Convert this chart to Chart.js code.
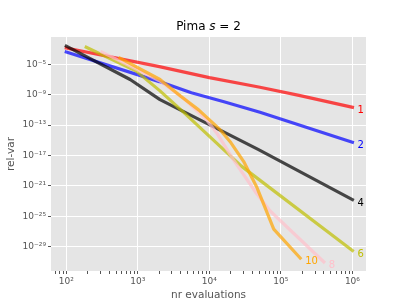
<!DOCTYPE html>
<html>
<head>
<meta charset="utf-8">
<script src="https://cdn.jsdelivr.net/npm/chart.js@4"></script>
<style>
  html, body { margin: 0; padding: 0; background: #ffffff; }
  #wrap { width: 407px; height: 305px; position: relative; }
</style>
</head>
<body>
<div id="wrap"><canvas id="c" width="407" height="305"></canvas></div>
<script>
// ---- data ----
const seriesNames = ['1', '2', '4', '6', '8', '10'];

const evals1 = [100, 2000, 1e4, 5.1e4, 1.86e5, 1e6];
const relvar1 = [1.41e-3, 5.0e-6, 1.78e-7, 9.5e-9, 7.4e-10, 2.24e-11];

const evals2 = [100, 2000, 5600, 1.6e4, 5.1e4, 1e6];
const relvar2 = [4.2e-4, 5.25e-8, 1.78e-9, 1.2e-10, 4.9e-12, 5.5e-16];

const evals4 = [100, 780, 2040, 4.8e4, 1e6];
const relvar4 = [2.5e-3, 1e-7, 2.24e-10, 6.3e-17, 1.58e-23];

const evals6 = [190, 950, 2040, 4570, 2.8e4, 1e6];
const relvar6 = [1.74e-3, 1.26e-6, 3.16e-9, 3.16e-12, 3.98e-19, 3.16e-30];

const evals8 = [316, 2042, 4365, 9120, 12589, 21878, 45709, 70795, 398107];
const relvar8 = [4e-4, 6.3e-8, 3.2e-10, 5e-13, 1e-14, 2.5e-18, 1e-22, 5e-25, 1e-31];

const evals10 = [562, 2042, 3981, 7079, 14125, 19953, 30200, 45709, 79433, 186209];
const relvar10 = [6.3e-5, 1e-7, 6.3e-10, 1e-11, 2.5e-14, 5e-16, 1.6e-18, 7.9e-22, 2e-27, 3.2e-31];

const xMajorTicks = [1e2, 1e3, 1e4, 1e5, 1e6];
const yMajorTicks = [1e-5, 1e-9, 1e-13, 1e-17, 1e-21, 1e-25, 1e-29];

// ---- styling ----
const lineColors = ['rgba(255,0,0,0.7)', 'rgba(0,0,255,0.7)', 'rgba(0,0,0,0.7)',
                    'rgba(191,191,0,0.7)', 'rgba(255,192,203,0.7)', 'rgba(255,165,0,0.7)'];
const textColors = ['#ff0000', '#0000ff', '#000000', '#bfbf00', '#ffc0cb', '#ffa500'];

const allEvals = [evals1, evals2, evals4, evals6, evals8, evals10];
const allRelvar = [relvar1, relvar2, relvar4, relvar6, relvar8, relvar10];

const sup = {'0':'⁰','1':'¹','2':'²','3':'³','4':'⁴','5':'⁵','6':'⁶','7':'⁷','8':'⁸','9':'⁹','-':'⁻'};
function powLabel(v) {
  const e = Math.round(Math.log10(v));
  return '10' + String(e).split('').map(ch => sup[ch]).join('');
}

const datasets = seriesNames.map((name, i) => ({
  label: name,
  data: allEvals[i].map((x, j) => ({x: x, y: allRelvar[i][j]})),
  borderColor: lineColors[i],
  backgroundColor: lineColors[i],
  borderWidth: 3.2,
  pointRadius: 0,
  tension: 0,
  borderCapStyle: 'square',
  borderJoinStyle: 'round',
  fill: false,
  order: seriesNames.length - i
}));

// x minor ticks (2..9 x 10^k)
const xMin = Math.pow(10, 1.786), xMax = Math.pow(10, 6.19);
const xTickObjs = [];
for (let k = 1; k <= 6; k++) {
  for (let m = 1; m <= 9; m++) {
    const v = m * Math.pow(10, k);
    if (v >= xMin && v <= xMax) xTickObjs.push({value: v, major: m === 1});
  }
}

const endLabels = {
  id: 'endLabels',
  afterDatasetsDraw(chart) {
    const ctx = chart.ctx;
    const xs = chart.scales.x, ys = chart.scales.y;
    ctx.save();
    ctx.font = '10px "DejaVu Sans"';
    ctx.textAlign = 'left';
    ctx.textBaseline = 'middle';
    chart.data.datasets.forEach((ds, i) => {
      const last = ds.data[ds.data.length - 1];
      const px = xs.getPixelForValue(last.x);
      const py = ys.getPixelForValue(last.y);
      ctx.fillStyle = textColors[i];
      ctx.fillText(seriesNames[i], px + 5, py + 3.5);
    });
    ctx.restore();
  }
};

const titlePlugin = {
  id: 'mathTitle',
  afterDraw(chart) {
    const ctx = chart.ctx;
    ctx.save();
    ctx.fillStyle = '#000';
    ctx.textBaseline = 'middle';
    const normal = '12px "DejaVu Sans"';
    const ital = 'italic 12px "DejaVu Sans"';
    const parts = [['Pima ', normal], ['s', ital], [' = 2', normal]];
    let total = 0;
    parts.forEach(p => { ctx.font = p[1]; total += ctx.measureText(p[0]).width; });
    const cx = (chart.chartArea.left + chart.chartArea.right) / 2;
    let x = cx - total / 2;
    ctx.textAlign = 'left';
    parts.forEach(p => { ctx.font = p[1]; ctx.fillText(p[0], x, 27); x += ctx.measureText(p[0]).width; });
    ctx.restore();
  }
};

const bgPlugin = {
  id: 'plotBg',
  beforeDraw(chart) {
    const a = chart.chartArea, ctx = chart.ctx;
    ctx.save();
    ctx.fillStyle = '#ffffff';
    ctx.fillRect(0, 0, chart.width, chart.height);
    ctx.fillStyle = '#e5e5e5';
    ctx.fillRect(a.left, a.top, a.right - a.left, a.bottom - a.top);
    ctx.restore();
  }
};

new Chart(document.getElementById('c'), {
  type: 'line',
  data: { datasets: datasets },
  plugins: [bgPlugin, endLabels, titlePlugin],
  options: {
    responsive: false,
    animation: false,
    devicePixelRatio: 1,
    layout: { padding: { top: 37, right: 41, left: 0, bottom: 0 } },
    plugins: {
      legend: { display: false },
      tooltip: { enabled: false },
      title: { display: false }
    },
    scales: {
      x: {
        type: 'logarithmic',
        min: xMin,
        max: xMax,
        bounds: 'data',
        afterBuildTicks: s => { s.ticks = xTickObjs.map(t => ({value: t.value, major: t.major})); },
        afterFit: s => { s.height = 34; },
        border: { display: false },
        grid: {
          color: c => (c.tick && c.tick.major) ? '#ffffff' : 'rgba(0,0,0,0)',
          tickColor: '#555555',
          lineWidth: 1,
          drawTicks: true,
          tickLength: 3
        },
        ticks: {
          autoSkip: false,
          maxRotation: 0,
          padding: 2,
          color: '#555555',
          font: { family: 'DejaVu Sans', size: 9 },
          callback: function (v) { return xMajorTicks.includes(v) ? powLabel(v) : ''; }
        },
        title: {
          display: true,
          text: 'nr evaluations',
          color: '#555555',
          font: { family: 'DejaVu Sans', size: 10.5 },
          padding: { top: 0, bottom: 3 }
        }
      },
      y: {
        type: 'logarithmic',
        min: Math.pow(10, -32.2),
        max: Math.pow(10, -1.41),
        bounds: 'data',
        afterBuildTicks: s => { s.ticks = yMajorTicks.map(v => ({value: v, major: true})); },
        afterFit: s => { s.width = 51; },
        border: { display: false },
        grid: {
          color: '#ffffff',
          tickColor: '#555555',
          lineWidth: 1,
          drawTicks: true,
          tickLength: 3
        },
        ticks: {
          autoSkip: false,
          padding: 2,
          color: '#555555',
          font: { family: 'DejaVu Sans', size: 9 },
          callback: function (v) { return powLabel(v); }
        },
        title: {
          display: true,
          text: 'rel-var',
          color: '#555555',
          font: { family: 'DejaVu Sans', size: 10.5 },
          padding: { top: 5, bottom: 0 }
        }
      }
    }
  }
});
</script>
</body>
</html>
